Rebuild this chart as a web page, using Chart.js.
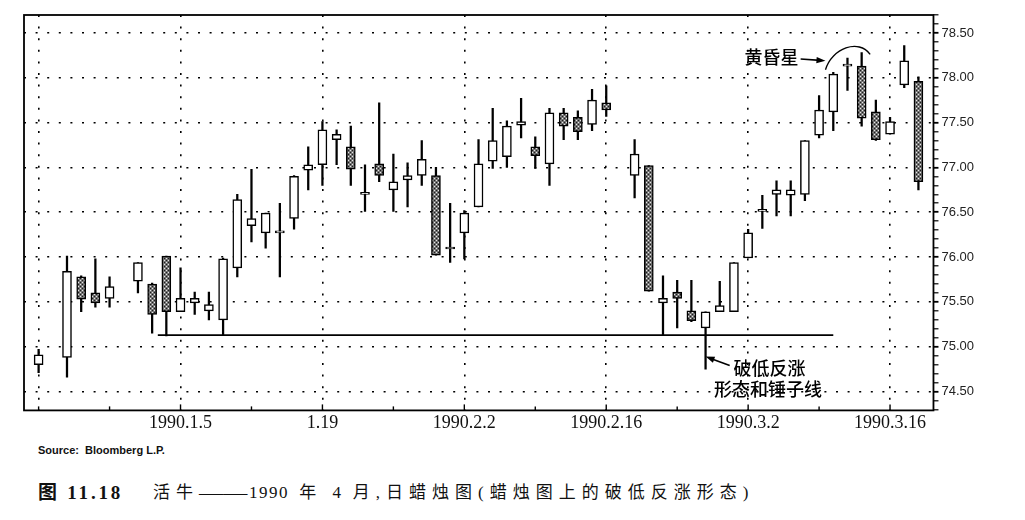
<!DOCTYPE html>
<html lang="zh">
<head>
<meta charset="utf-8">
<title>图 11.18 活牛 日蜡烛图</title>
<script src="https://cdn.jsdelivr.net/npm/chart.js@4.4.1/dist/chart.umd.min.js"></script>
<style>
    html, body { margin: 0; padding: 0; background: #fff; }
    #wrap { position: relative; width: 1025px; height: 520px; overflow: hidden; }
    #chart-box { position: absolute; left: 0; top: 0; width: 1025px; height: 440px; }
    .source {
        position: absolute; left: 38px; top: 444px;
        font: bold 11px "Liberation Sans", Arial, sans-serif; color: #111;
        white-space: pre;
    }
    .fig-no, .fig-title {
        position: absolute; top: 482px; color: #111; white-space: nowrap;
        font-family: "Liberation Serif", "Noto Sans CJK SC", serif; line-height: 22px;
    }
    .fig-no    { left: 38px;  font-size: 19px; font-weight: bold; letter-spacing: 2.8px; }
    .fig-title { left: 153px; font-size: 17px; letter-spacing: 6px; }
    .fig-title .num  { letter-spacing: 1.5px; }
    .fig-title .dash {
        display: inline-block; width: 50px; letter-spacing: 0;
        transform: scaleX(1.42); transform-origin: left center;
    }
</style>
</head>
<body>
<div id="wrap">
    <div id="chart-box"><canvas id="candles"></canvas></div>
    <div class="source">Source:  Bloomberg L.P.</div>
    <div class="fig-no">图 11.18</div>
    <div class="fig-title">活牛<span class="dash">——</span><span class="num">1990</span> 年 <span class="num">4</span> 月,日蜡烛图(蜡烛图上的破低反涨形态)</div>
</div>

<script>
// ── Data (one slot = one trading day) ─────────────────────────────
const slots  = [ 0,  2,  3,  4,  5,  7,  8,  9, 10, 11, 12, 13, 14, 15, 16, 17, 18, 19, 20, 21,
                22, 23, 24, 25, 26, 27, 28, 29, 30, 31, 32, 33, 34, 35, 36, 37, 38, 39, 40, 42,
                43, 44, 45, 46, 47, 48, 49, 50, 51, 52, 53, 54, 55, 56, 57, 58, 59, 60, 61, 62];

const opens  = [74.80, 74.88, 75.78, 75.60, 75.54, 75.73, 75.70, 76.01, 75.39, 75.49, 75.40, 75.30, 75.88, 76.35, 76.27, 76.27, 76.43, 76.97, 77.03, 77.31,
                77.23, 76.70, 77.04, 76.75, 76.86, 76.91, 76.91, 76.09, 76.27, 76.56, 77.07, 77.12, 77.47, 77.23, 77.04, 77.61, 77.56, 77.48, 77.72, 76.91,
                77.02, 75.49, 75.61, 75.40, 75.21, 75.39, 75.39, 75.99, 76.51, 76.70, 76.69, 76.70, 77.36, 77.62, 78.13, 78.13, 77.62, 77.37, 77.92, 77.96];
const highs  = [74.97, 76.01, 75.79, 75.98, 75.78, 75.94, 75.71, 76.01, 75.88, 75.61, 75.61, 75.99, 76.70, 76.98, 76.49, 76.60, 76.91, 77.23, 77.51, 77.42,
                77.46, 77.03, 77.72, 77.15, 77.05, 77.30, 77.00, 76.60, 76.52, 77.31, 77.66, 77.52, 77.77, 77.34, 77.66, 77.66, 77.63, 77.87, 77.91, 77.31,
                77.02, 75.79, 75.74, 75.74, 75.39, 75.73, 75.94, 76.31, 76.69, 76.85, 76.85, 77.30, 77.80, 78.06, 78.22, 78.28, 77.75, 77.56, 78.36, 78.01];
const lows   = [74.71, 74.66, 75.39, 75.44, 75.44, 75.60, 75.15, 75.12, 75.39, 75.36, 75.30, 75.13, 75.78, 76.17, 76.10, 75.78, 76.31, 76.75, 76.80, 77.03,
                76.80, 76.51, 76.84, 76.51, 76.56, 76.80, 76.02, 75.94, 75.98, 76.56, 76.99, 77.00, 77.33, 76.99, 76.80, 77.31, 77.31, 77.41, 77.57, 76.66,
                75.62, 75.13, 75.21, 75.28, 74.75, 75.39, 75.39, 75.99, 76.32, 76.46, 76.46, 76.63, 77.33, 77.41, 77.86, 77.46, 77.30, 77.37, 77.89, 76.75];
const closes = [74.91, 75.84, 75.53, 75.49, 75.67, 75.94, 75.36, 75.39, 75.54, 75.54, 75.47, 75.98, 76.64, 76.43, 76.49, 76.27, 76.90, 77.03, 77.42, 77.37,
                76.98, 76.70, 76.91, 76.84, 76.91, 77.09, 76.02, 76.09, 76.49, 77.04, 77.30, 77.46, 77.51, 77.13, 77.61, 77.46, 77.40, 77.75, 77.64, 77.15,
                75.62, 75.54, 75.54, 75.29, 75.39, 75.46, 75.94, 76.27, 76.51, 76.75, 76.75, 77.30, 77.64, 78.04, 78.13, 77.55, 77.31, 77.51, 78.19, 76.84];

// Axis ticks
const xTickSlots  = [0, 5, 10, 15, 20, 25, 30, 35, 40, 45, 50, 55, 60];
const xTickLabels = ['', '', '1990.1.5', '', '1.19', '', '1990.2.2', '', '1990.2.16', '', '1990.3.2', '', '1990.3.16'];
const priceLabels = [74.5, 75.0, 75.5, 76.0, 76.5, 77.0, 77.5, 78.0, 78.5];

// Support line under the January / February lows
const supportSlots  = [8.4, 56.0];
const supportPrices = [75.13, 75.13];

// ── Notes (slot / price coordinates) ──────────────────────────────
const noteTexts = [
    { text: '黄昏星',       slot: 51.65, price: 78.23 },
    { text: '破低反涨',     slot: 51.5,  price: 74.76 },
    { text: '形态和锤子线', slot: 51.4,  price: 74.53 }
];
const noteArrows = [
    { from: [53.7, 78.21], to: [55.45, 78.19] },
    { from: [48.7, 74.79], to: [47.0, 74.89] }
];
const starArc = [[55.45, 78.09], [55.9, 78.33], [57.8, 78.44], [58.6, 78.26]];

// ── Helpers ───────────────────────────────────────────────────────
const isMajorPrice = v => priceLabels.some(p => Math.abs(p - v) < 1e-6);

function minorPriceTicks() {
    const list = [];
    for (let t = 743; t <= 787; t++) list.push(t / 10);
    return list;
}

function makeHatch(ctx) {
    const c = document.createElement('canvas');
    c.width = 4; c.height = 4;
    const g = c.getContext('2d');
    g.fillStyle = '#747474'; g.fillRect(0, 0, 4, 4);
    g.fillStyle = '#e6e6e6'; g.fillRect(0, 0, 1, 1); g.fillRect(2, 2, 1, 1);
    g.fillStyle = '#1c1c1c'; g.fillRect(2, 0, 1, 1); g.fillRect(0, 2, 1, 1);
    return ctx.createPattern(c, 'repeat');
}

function drawArrow(ctx, x1, y1, x2, y2) {
    const ang = Math.atan2(y2 - y1, x2 - x1);
    const len = 9, half = 3.2;
    ctx.beginPath();
    ctx.moveTo(x1, y1);
    ctx.lineTo(x2 - Math.cos(ang) * len * 0.6, y2 - Math.sin(ang) * len * 0.6);
    ctx.stroke();
    ctx.beginPath();
    ctx.moveTo(x2, y2);
    ctx.lineTo(x2 - Math.cos(ang) * len - Math.sin(ang) * half, y2 - Math.sin(ang) * len + Math.cos(ang) * half);
    ctx.lineTo(x2 - Math.cos(ang) * len + Math.sin(ang) * half, y2 - Math.sin(ang) * len - Math.cos(ang) * half);
    ctx.closePath();
    ctx.fill();
}

// ── Frame, inward ticks and notes ─────────────────────────────────
const bookNotes = {
    id: 'bookNotes',
    afterDatasetsDraw(chart) {
        const { ctx, chartArea: a, scales: { x, y } } = chart;
        ctx.save();
        ctx.strokeStyle = '#000';
        ctx.fillStyle = '#000';

        ctx.lineWidth = 1.8;
        ctx.strokeRect(a.left, a.top, a.right - a.left, a.bottom - a.top);

        ctx.lineWidth = 1.4;
        xTickSlots.forEach((s, i) => {
            const px = x.getPixelForValue(s);
            ctx.beginPath();
            ctx.moveTo(px, a.bottom);
            ctx.lineTo(px, a.bottom - (xTickLabels[i] ? 6 : 4));
            ctx.stroke();
        });

        ctx.font = '500 18px "Noto Sans CJK SC", sans-serif';
        ctx.textAlign = 'center';
        ctx.textBaseline = 'middle';
        noteTexts.forEach(n => {
            ctx.fillText(n.text, x.getPixelForValue(n.slot), y.getPixelForValue(n.price));
        });

        ctx.lineWidth = 1.6;
        noteArrows.forEach(ar => {
            drawArrow(ctx,
                x.getPixelForValue(ar.from[0]), y.getPixelForValue(ar.from[1]),
                x.getPixelForValue(ar.to[0]),   y.getPixelForValue(ar.to[1]));
        });

        const p = starArc.map(([s, v]) => [x.getPixelForValue(s), y.getPixelForValue(v)]);
        ctx.lineWidth = 1.3;
        ctx.beginPath();
        ctx.moveTo(p[0][0], p[0][1]);
        ctx.bezierCurveTo(p[1][0], p[1][1], p[2][0], p[2][1], p[3][0], p[3][1]);
        ctx.stroke();

        ctx.restore();
    }
};

// ── Chart ─────────────────────────────────────────────────────────
const canvas = document.getElementById('candles');
const hatch  = makeHatch(canvas.getContext('2d'));

const bodies = slots.map((s, i) => ({ x: s, y: [opens[i], closes[i]] }));
const wicks  = slots.map((s, i) => ({ x: s, y: [lows[i], highs[i]] }));
const support = supportSlots.map((s, i) => ({ x: s, y: supportPrices[i] }));

new Chart(canvas, {
    type: 'bar',
    data: {
        datasets: [
            {
                label: 'Body',
                data: bodies,
                order: 0,
                grouped: false,
                barThickness: 9,
                minBarLength: 2,
                borderSkipped: false,
                borderWidth: 1.5,
                borderColor: '#000',
                backgroundColor: c => closes[c.dataIndex] >= opens[c.dataIndex] ? '#fff' : hatch
            },
            {
                label: 'Range',
                data: wicks,
                order: 1,
                grouped: false,
                barThickness: 1.6,
                borderWidth: 0,
                backgroundColor: '#000'
            },
            {
                type: 'line',
                label: 'Support',
                data: support,
                order: 2,
                borderColor: '#000',
                borderWidth: 1.6,
                pointRadius: 0
            }
        ]
    },
    options: {
        responsive: true,
        maintainAspectRatio: false,
        animation: false,
        layout: { padding: { left: 24, top: 15, right: 48, bottom: 4 } },
        plugins: { legend: { display: false }, tooltip: { enabled: false } },
        scales: {
            x: {
                type: 'linear',
                position: 'bottom',
                min: -1.03,
                max: 63.06,
                bounds: 'data',
                offset: false,
                afterBuildTicks: s => { s.ticks = xTickSlots.map(v => ({ value: v })); },
                ticks: {
                    autoSkip: false,
                    maxRotation: 0,
                    padding: 2,
                    color: '#111',
                    font: { family: '"Liberation Serif", "Times New Roman", serif', size: 18 },
                    callback: v => xTickLabels[xTickSlots.indexOf(v)] || ''
                },
                grid: {
                    offset: false,
                    drawTicks: false,
                    lineWidth: 1.6,
                    color: c => (c.tick && c.tick.value % 10 === 0) ? '#000' : 'rgba(0,0,0,0)'
                },
                border: { display: false, dash: [2, 9.6] }
            },
            y: {
                type: 'linear',
                position: 'right',
                min: 74.29,
                max: 78.70,
                bounds: 'data',
                afterBuildTicks: s => { s.ticks = minorPriceTicks().map(v => ({ value: v })); },
                ticks: {
                    autoSkip: false,
                    padding: 3,
                    color: '#222',
                    font: { family: '"Liberation Sans", Arial, sans-serif', size: 13 },
                    callback: v => isMajorPrice(v) ? v.toFixed(2) : ''
                },
                grid: {
                    drawTicks: true,
                    tickLength: 5,
                    lineWidth: 1.6,
                    tickColor: '#000',
                    tickWidth: c => (c.tick && isMajorPrice(c.tick.value)) ? 1.8 : 1.2,
                    color: c => (c.tick && isMajorPrice(c.tick.value)) ? '#000' : 'rgba(0,0,0,0)'
                },
                border: { display: false, dash: [2, 9.6] }
            }
        }
    },
    plugins: [bookNotes]
});
</script>
</body>
</html>
